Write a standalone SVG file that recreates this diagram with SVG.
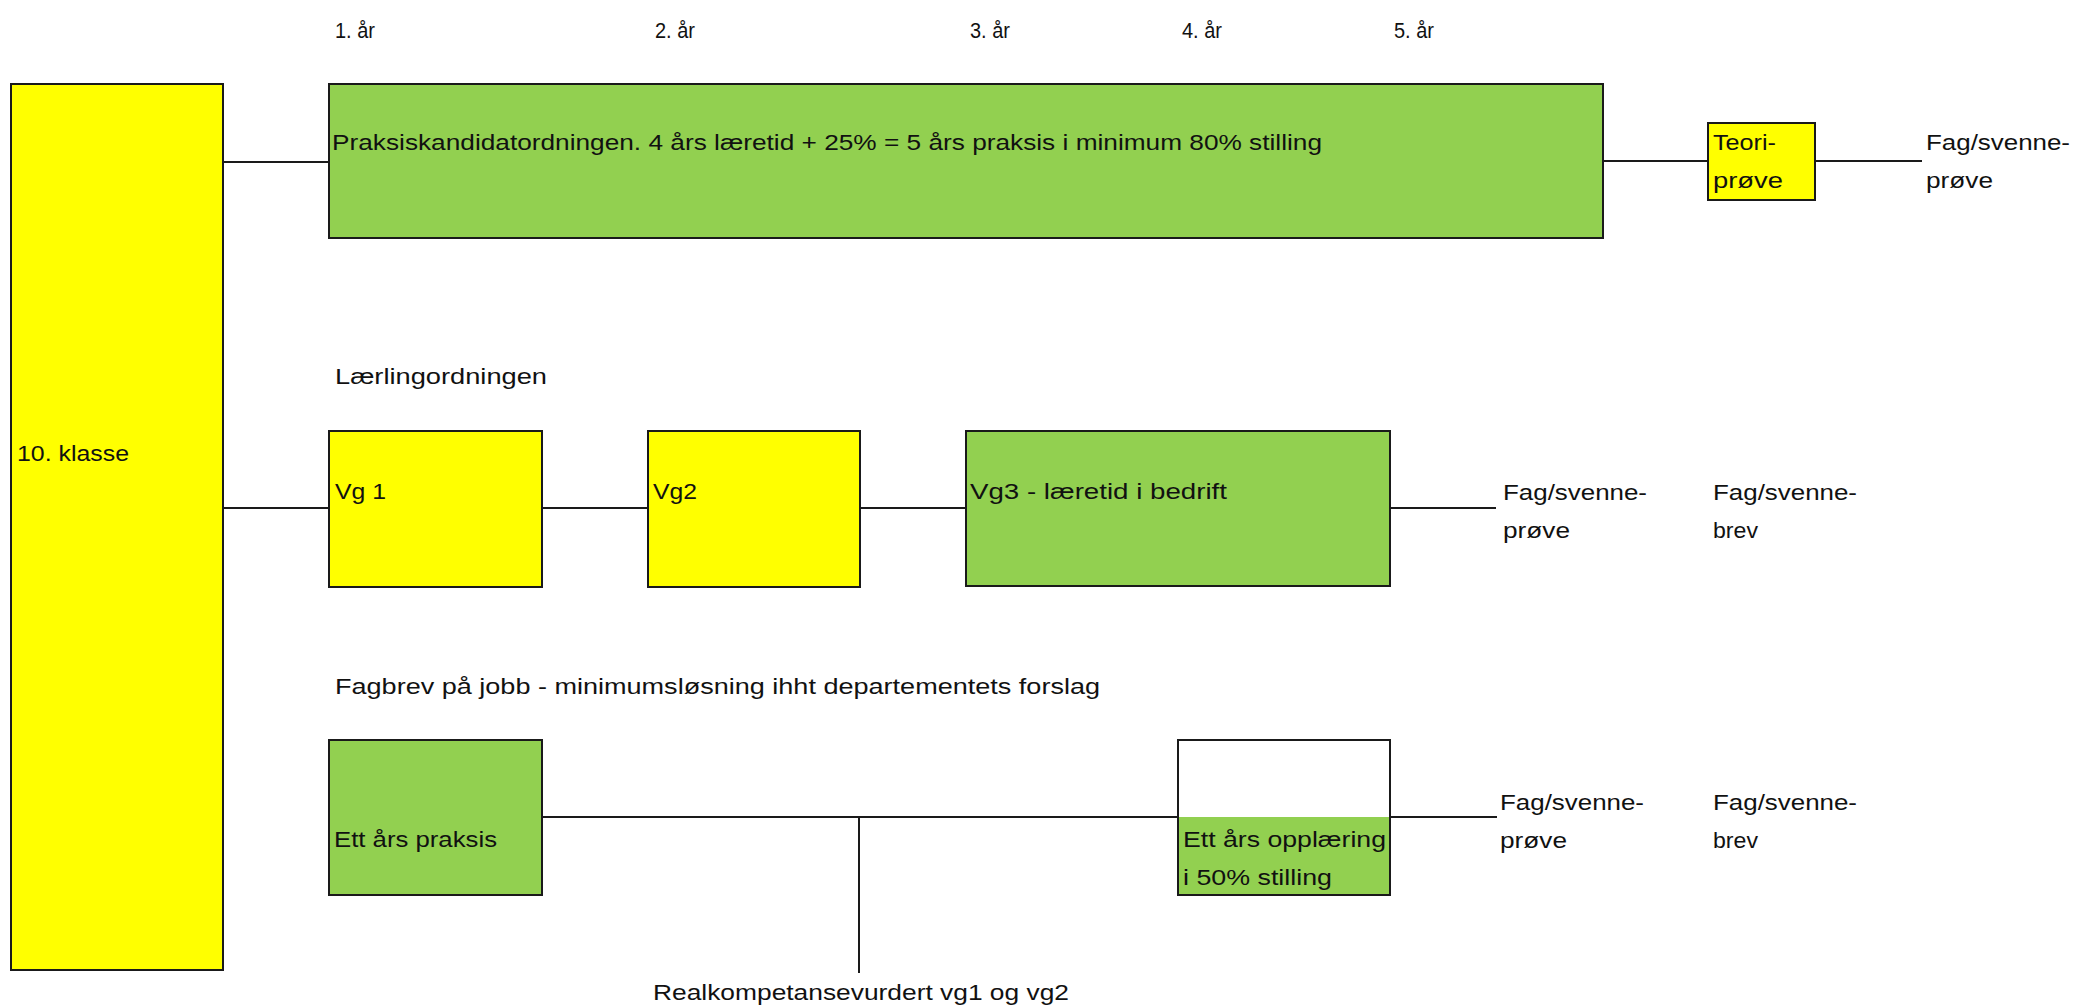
<svg xmlns="http://www.w3.org/2000/svg" width="2076" height="1005" viewBox="0 0 2076 1005">
<style>
  .box { stroke: #1a1a1a; stroke-width: 2; }
  .yellow { fill: #FFFF00; }
  .green { fill: #92D050; }
  .conn { stroke: #1a1a1a; stroke-width: 2; fill: none; }
  text { font-family: "Liberation Sans", Arial, sans-serif; font-size: 22px; fill: #111; }
</style>
<rect width="2076" height="1005" fill="#ffffff"/>

<g id="year-labels">
  <text x="335" y="38" textLength="40" lengthAdjust="spacingAndGlyphs">1. år</text>
  <text x="655" y="38" textLength="40" lengthAdjust="spacingAndGlyphs">2. år</text>
  <text x="970" y="38" textLength="40" lengthAdjust="spacingAndGlyphs">3. år</text>
  <text x="1182" y="38" textLength="40" lengthAdjust="spacingAndGlyphs">4. år</text>
  <text x="1394" y="38" textLength="40" lengthAdjust="spacingAndGlyphs">5. år</text>
</g>

<g id="connectors">
  <line class="conn" x1="223" y1="162" x2="329" y2="162"/>
  <line class="conn" x1="1603" y1="161" x2="1708" y2="161"/>
  <line class="conn" x1="1815" y1="161" x2="1922" y2="161"/>
  <line class="conn" x1="223" y1="508" x2="329" y2="508"/>
  <line class="conn" x1="542" y1="508" x2="648" y2="508"/>
  <line class="conn" x1="860" y1="508" x2="966" y2="508"/>
  <line class="conn" x1="1390" y1="508" x2="1496" y2="508"/>
  <line class="conn" x1="542" y1="817" x2="1178" y2="817"/>
  <line class="conn" x1="859" y1="817" x2="859" y2="973"/>
  <line class="conn" x1="1390" y1="817" x2="1497" y2="817"/>
</g>

<g id="klasse10">
  <rect class="box yellow" x="11" y="84" width="212" height="886"/>
  <text x="17" y="461" textLength="112" lengthAdjust="spacingAndGlyphs">10. klasse</text>
</g>

<g id="praksiskandidat">
  <rect class="box green" x="329" y="84" width="1274" height="154"/>
  <text x="332" y="150" textLength="990" lengthAdjust="spacingAndGlyphs">Praksiskandidatordningen. 4 års læretid + 25% = 5 års praksis i minimum 80% stilling</text>
</g>

<g id="teoriprove">
  <rect class="box yellow" x="1708" y="123" width="107" height="77"/>
  <text x="1713" y="150" textLength="63" lengthAdjust="spacingAndGlyphs">Teori-</text>
  <text x="1713" y="188" textLength="70" lengthAdjust="spacingAndGlyphs">prøve</text>
</g>

<g id="fagprove1">
  <text x="1926" y="150" textLength="144" lengthAdjust="spacingAndGlyphs">Fag/svenne-</text>
  <text x="1926" y="188" textLength="67" lengthAdjust="spacingAndGlyphs">prøve</text>
</g>

<g id="laerling-title">
  <text x="335" y="384" textLength="212" lengthAdjust="spacingAndGlyphs">Lærlingordningen</text>
</g>

<g id="vg1">
  <rect class="box yellow" x="329" y="431" width="213" height="156"/>
  <text x="335" y="499" textLength="51" lengthAdjust="spacingAndGlyphs">Vg 1</text>
</g>

<g id="vg2">
  <rect class="box yellow" x="648" y="431" width="212" height="156"/>
  <text x="653" y="499" textLength="44" lengthAdjust="spacingAndGlyphs">Vg2</text>
</g>

<g id="vg3">
  <rect class="box green" x="966" y="431" width="424" height="155"/>
  <text x="970" y="499" textLength="257" lengthAdjust="spacingAndGlyphs">Vg3 - læretid i bedrift</text>
</g>

<g id="fagprove2">
  <text x="1503" y="500" textLength="144" lengthAdjust="spacingAndGlyphs">Fag/svenne-</text>
  <text x="1503" y="538" textLength="67" lengthAdjust="spacingAndGlyphs">prøve</text>
</g>

<g id="fagbrev2">
  <text x="1713" y="500" textLength="144" lengthAdjust="spacingAndGlyphs">Fag/svenne-</text>
  <text x="1713" y="538" textLength="45" lengthAdjust="spacingAndGlyphs">brev</text>
</g>

<g id="fagbrev-title">
  <text x="335" y="694" textLength="765" lengthAdjust="spacingAndGlyphs">Fagbrev på jobb - minimumsløsning ihht departementets forslag</text>
</g>

<g id="ett-ars-praksis">
  <rect class="box green" x="329" y="740" width="213" height="155"/>
  <text x="334" y="847" textLength="163" lengthAdjust="spacingAndGlyphs">Ett års praksis</text>
</g>

<g id="ett-ars-opplaering">
  <rect x="1178" y="817" width="212" height="78" class="green"/>
  <rect x="1178" y="740" width="212" height="155" fill="none" stroke="#1a1a1a" stroke-width="2"/>
  <text x="1183" y="847" textLength="203" lengthAdjust="spacingAndGlyphs">Ett års opplæring</text>
  <text x="1183" y="885" textLength="149" lengthAdjust="spacingAndGlyphs">i 50% stilling</text>
</g>

<g id="fagprove3">
  <text x="1500" y="810" textLength="144" lengthAdjust="spacingAndGlyphs">Fag/svenne-</text>
  <text x="1500" y="848" textLength="67" lengthAdjust="spacingAndGlyphs">prøve</text>
</g>

<g id="fagbrev3">
  <text x="1713" y="810" textLength="144" lengthAdjust="spacingAndGlyphs">Fag/svenne-</text>
  <text x="1713" y="848" textLength="45" lengthAdjust="spacingAndGlyphs">brev</text>
</g>

<g id="realkompetanse">
  <text x="653" y="1000" textLength="416" lengthAdjust="spacingAndGlyphs">Realkompetansevurdert vg1 og vg2</text>
</g>
</svg>
